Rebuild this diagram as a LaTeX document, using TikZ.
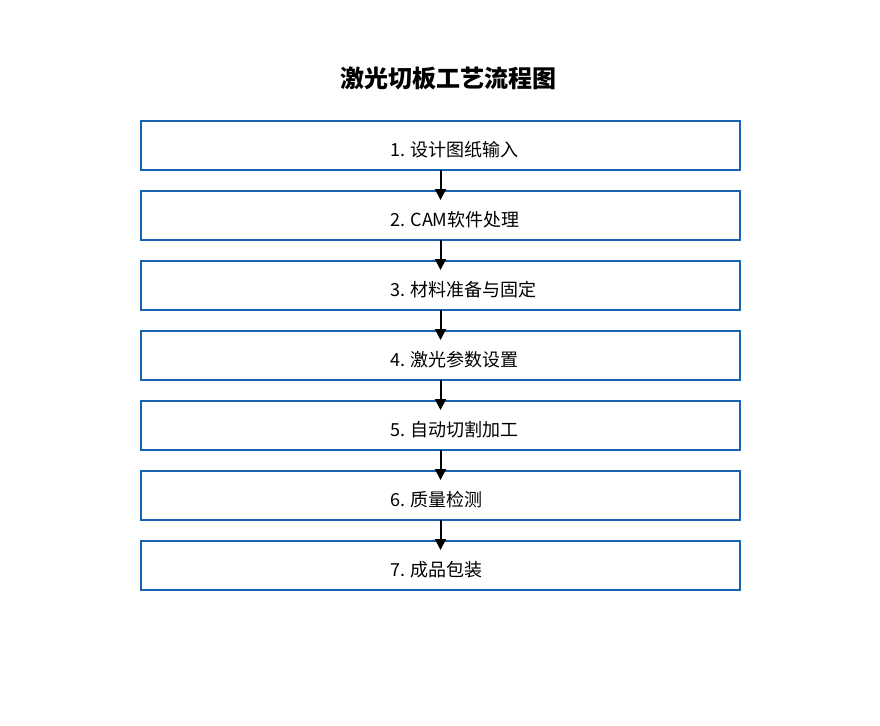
\documentclass[tikz,border=0pt]{standalone}
\usepackage{fontspec}
\newfontfamily\cjk{Noto Sans CJK SC}
\usetikzlibrary{positioning,arrows.meta}
\definecolor{boxblue}{rgb}{0.09,0.39,0.69}

\begin{document}
\begin{tikzpicture}[x=1pt,y=-1pt,line cap=butt,
	stepbox/.style={draw=boxblue,line width=2pt,minimum width=599pt,minimum height=49pt,inner sep=0pt,outer sep=0pt},
	steptext/.style={anchor=west,inner sep=0pt,yshift=-4pt,font=\cjk\fontsize{18}{20}\selectfont},
	flow/.style={-{Triangle[length=11pt,width=11pt]},line width=2pt},
	node distance=21pt]
	\useasboundingbox (0,0) rectangle (880,725);
	% title
	\node[font=\cjk\bfseries\fontsize{24}{26}\selectfont] (title) at (448,78) {激光切板工艺流程图};
	% boxes
	\node[stepbox] (s1) at (440.5,145.5) {};
	\node[stepbox,below=of s1] (s2) {};
	\node[stepbox,below=of s2] (s3) {};
	\node[stepbox,below=of s3] (s4) {};
	\node[stepbox,below=of s4] (s5) {};
	\node[stepbox,below=of s5] (s6) {};
	\node[stepbox,below=of s6] (s7) {};
	% texts
	\node[steptext,right=249pt of s1.west] (t1) {1. 设计图纸输入};
	\node[steptext,right=249pt of s2.west] (t2) {2. CAM软件处理};
	\node[steptext,right=249pt of s3.west] (t3) {3. 材料准备与固定};
	\node[steptext,right=249pt of s4.west] (t4) {4. 激光参数设置};
	\node[steptext,right=249pt of s5.west] (t5) {5. 自动切割加工};
	\node[steptext,right=249pt of s6.west] (t6) {6. 质量检测};
	\node[steptext,right=249pt of s7.west] (t7) {7. 成品包装};
	% arrows, tip reaches into the next box
	\foreach \a/\b in {s1/s2,s2/s3,s3/s4,s4/s5,s5/s6,s6/s7}
		\draw[flow] (\a.south) -- ([yshift=-9pt]\b.north);
\end{tikzpicture}
\end{document}
